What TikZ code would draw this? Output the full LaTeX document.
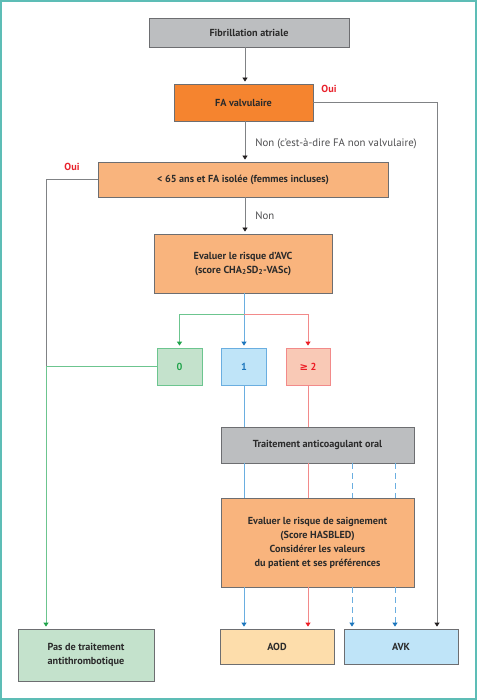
\documentclass[tikz,border=0pt]{standalone}
\usepackage{fontspec}
\setmainfont{PT Sans}
\newfontfamily\symfont{DejaVu Sans}
\usepackage{xcolor}
\usepackage{tikz}
\usetikzlibrary{arrows.meta}

\definecolor{frame}{HTML}{5DBDB6}
\definecolor{boxline}{HTML}{6D6E71}
\definecolor{boxtext}{HTML}{2B2B2B}
\definecolor{grayfill}{HTML}{BCBEC0}
\definecolor{darkorange}{HTML}{F5842F}
\definecolor{lightorange}{HTML}{F9B47D}
\definecolor{greenfill}{HTML}{C4E2CC}
\definecolor{greenline}{HTML}{6CC58F}
\definecolor{greentip}{HTML}{1FA34A}
\definecolor{bluefill}{HTML}{BFE4F8}
\definecolor{blueline}{HTML}{6AAEE0}
\definecolor{bluetip}{HTML}{1B75BC}
\definecolor{redfill}{HTML}{F9C9B6}
\definecolor{redline}{HTML}{F28A8A}
\definecolor{redtip}{HTML}{ED1C24}
\definecolor{peach}{HTML}{FDDDAB}
\definecolor{linegray}{HTML}{808285}
\definecolor{tipdark}{HTML}{231F20}
\definecolor{labelgray}{HTML}{4D4D4F}
\definecolor{ouired}{HTML}{E8202A}

\begin{document}
\begin{tikzpicture}[x=1pt, y=-1pt,
    font=\fontsize{10.2}{14}\selectfont,
    box/.style={draw=boxline, line width=0.8pt, align=center, inner sep=0pt, text=boxtext, font=\fontsize{10.2}{14}\selectfont\bfseries},
    scorebox/.style={box, minimum width=45pt, minimum height=37pt},
    tip/.style={-{Triangle[width=5pt, length=4pt, color=#1]}, shorten >=2pt},
    grayconn/.style={draw=linegray, line width=0.8pt},
    greenconn/.style={draw=greenline, line width=0.8pt},
    blueconn/.style={draw=blueline, line width=0.8pt},
    redconn/.style={draw=redline, line width=0.8pt},
    dashconn/.style={blueconn, dash pattern=on 6pt off 4pt},
    nonlabel/.style={text=labelgray, inner sep=0pt, xshift=10pt, font=\fontsize{10.8}{13}\selectfont},
    oui/.style={text=ouired, font=\fontsize{10.2}{12}\selectfont\bfseries, inner sep=0pt}]

    \useasboundingbox (0,0) rectangle (477,700);
    \draw[frame, line width=1.5pt] (1,1) rectangle (476,699);

    \coordinate (axis) at (245,0);
    \coordinate (leftx) at (46,0);
    \coordinate (rightx) at (437,0);
    \coordinate (dasha) at (352,0);
    \coordinate (dashb) at (395,0);
    \coordinate (split) at (244,314);

    \node (fib) [box, fill=grayfill, minimum width=200pt, minimum height=29pt] at (249,32.5) {Fibrillation atriale};
    \node (valv) [box, fill=darkorange, minimum width=139pt, minimum height=37pt] at (243.5,102.5) {FA valvulaire};
    \node (age) [box, fill=lightorange, minimum width=290pt, minimum height=35pt] at (243,179.5) {< 65 ans et FA isolée (femmes incluses)};
    \node (avc) [box, fill=lightorange, minimum width=178pt, minimum height=59pt] at (243,263.5) {Evaluer le risque d'AVC\\(score CHA\textsubscript{2}SD\textsubscript{2}-VASc)};
    \node (zero) [scorebox, draw=greenline, fill=greenfill, text=greentip] at (179.5,366.5) {0};
    \node (one) [scorebox, draw=blueline, fill=bluefill, text=bluetip] at (244,366.5) {1};
    \node (two) [scorebox, draw=redline, fill=redfill, text=redtip, minimum width=44pt] at (308,366.5) {{\symfont\bfseries ≥} 2};
    \node (trait) [box, fill=grayfill, minimum width=193pt, minimum height=36pt] at (317.5,445) {Traitement anticoagulant oral};
    \node (hasb) [box, fill=lightorange, minimum width=193pt, minimum height=89pt] at (317.5,542.5) {Evaluer le risque de saignement\\(Score HASBLED)\\Considérer les valeurs\\du patient et ses préférences};
    \node (aod) [box, fill=peach, minimum width=114pt, minimum height=35pt] at (277,646.5) {AOD};
    \node (avk) [box, fill=bluefill, minimum width=114pt, minimum height=35pt] at (401,646.5) {AVK};
    \node (pas) [box, fill=greenfill, minimum width=136pt, minimum height=52pt] at (86,655) {Pas de traitement\\antithrombotique};

    \node (ouiright) [oui] at (329,89) {Oui};
    \node (ouileft) [oui] at (72,167) {Oui};

    \draw[grayconn, tip=tipdark] (fib.south -| axis) -- (valv.north -| axis);
    \draw[grayconn, tip=tipdark] (valv.south -| axis) -- node[nonlabel, anchor=west, pos=0.55] {Non (c'est-à-dire FA non valvulaire)} (age.north -| axis);
    \draw[grayconn, tip=tipdark] (age.south -| axis) -- node[nonlabel, anchor=west, pos=0.5] {Non} (avc.north -| axis);
    \draw[grayconn, tip=tipdark] (valv.east) -| (avk.north -| rightx);
    \draw[grayconn] (age.west) -| (zero.west -| leftx);
    \draw[greenconn, tip=greentip] (zero.west) -- (zero.west -| leftx) -- (pas.north -| leftx);

    \draw[blueconn, tip=bluetip] (avc.south -| split) -- (one.north);
    \draw[greenconn, tip=greentip] (split) -| (zero.north);
    \draw[redconn, tip=redtip] (split) -| (two.north);

    \draw[blueconn] (one.south) -- (trait.north -| one.south);
    \draw[redconn] (two.south) -- (trait.north -| two.south);
    \draw[blueconn] (trait.south -| one.south) -- (hasb.north -| one.south);
    \draw[redconn] (trait.south -| two.south) -- (hasb.north -| two.south);
    \draw[dashconn] (trait.south -| dasha) -- (hasb.north -| dasha);
    \draw[dashconn] (trait.south -| dashb) -- (hasb.north -| dashb);

    \draw[blueconn, tip=bluetip] (hasb.south -| one.south) -- (aod.north -| one.south);
    \draw[redconn, tip=redtip] (hasb.south -| two.south) -- (aod.north -| two.south);
    \draw[dashconn, tip=bluetip] (hasb.south -| dasha) -- (avk.north -| dasha);
    \draw[dashconn, tip=bluetip] (hasb.south -| dashb) -- (avk.north -| dashb);
\end{tikzpicture}
\end{document}
